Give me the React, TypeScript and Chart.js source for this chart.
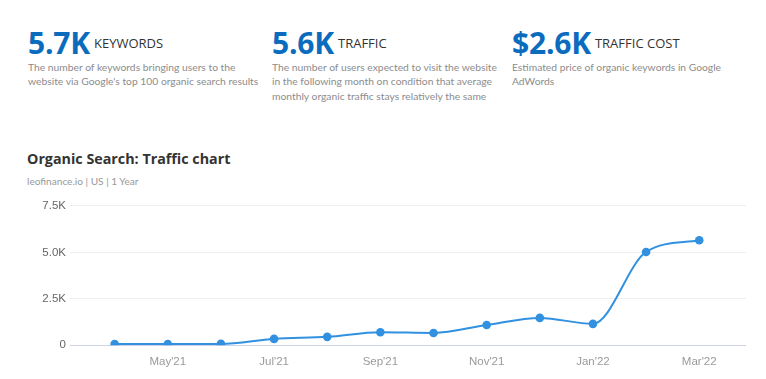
import React, { useEffect, useRef } from "react";
import { Chart, registerables } from "chart.js";

Chart.register(...registerables);

const months = ["Apr'21", "May'21", "Jun'21", "Jul'21", "Aug'21", "Sep'21", "Oct'21", "Nov'21", "Dec'21", "Jan'22", "Feb'22", "Mar'22"];
const traffic = [60, 60, 70, 340, 450, 700, 660, 1090, 1470, 1150, 5020, 5650];
const yTicks = [0, 2500, 5000, 7500];
const yTickLabels = ["0", "2.5K", "5.0K", "7.5K"];
const xTickIndexes = [1, 3, 5, 7, 9, 11];

const stats = [
  { value: "5.7K", label: "KEYWORDS", desc: ["The number of keywords bringing users to the", "website via Google's top 100 organic search results"], left: 28 },
  { value: "5.6K", label: "TRAFFIC", desc: ["The number of users expected to visit the website", "in the following month on condition that average", "monthly organic traffic stays relatively the same"], left: 272 },
  { value: "$2.6K", label: "TRAFFIC COST", desc: ["Estimated price of organic keywords in Google", "AdWords"], left: 512 },
];

const FONT = "'Open Sans', 'DejaVu Sans', sans-serif";
const DESC_FONT = "Lato, 'Open Sans', sans-serif";

export default function App() {
  const ref = useRef<HTMLCanvasElement>(null);
  useEffect(() => {
    const ctx = ref.current!;
    const chart = new Chart(ctx, {
      type: "line",
      data: {
        datasets: [
          {
            data: traffic.map((v, i) => ({ x: i, y: v })),
            borderColor: "#3191e0",
            backgroundColor: "#3191e0",
            borderWidth: 2,
            pointRadius: 4.3,
            pointHoverRadius: 4.3,
            pointBorderWidth: 0,
            cubicInterpolationMode: "monotone",
            fill: false,
          },
        ],
      },
      options: {
        animation: false,
        responsive: false,
        maintainAspectRatio: false,
        layout: { padding: { top: 10, right: 20, left: 0, bottom: 0 } },
        plugins: { legend: { display: false }, tooltip: { enabled: false } },
        scales: {
          x: {
            type: "linear",
            min: -0.84,
            max: 11.88,
            grid: { display: false, drawTicks: false },
            border: { display: false },
            afterBuildTicks: (axis: any) => {
              axis.ticks = xTickIndexes.map((v) => ({ value: v }));
            },
            ticks: {
              padding: 10,
              color: "#9a9a9a",
              font: { family: "'Liberation Sans', Arial, sans-serif", size: 11.5 },
              callback: (v: any) => months[v as number] ?? "",
              maxRotation: 0,
              autoSkip: false,
            },
          },
          y: {
            min: 0,
            max: 7500,
            afterFit: (axis: any) => {
              axis.width = 70;
            },
            afterBuildTicks: (axis: any) => {
              axis.ticks = yTicks.map((v) => ({ value: v }));
            },
            grid: {
              drawTicks: false,
              color: (c: any) => (c.tick && c.tick.value === 0 ? "#cdd2e6" : "#eceef2"),
              lineWidth: 1,
            },
            border: { display: false },
            ticks: {
              padding: 4,
              color: "#666666",
              font: { family: "'Liberation Sans', Arial, sans-serif", size: 11.5 },
              callback: (v: any) => yTickLabels[yTicks.indexOf(v as number)] ?? "",
            },
          },
        },
      },
    });
    return () => chart.destroy();
  }, []);

  return (
    <div style={{ position: "relative", width: 766, height: 379, margin: -8, background: "#fff", fontFamily: FONT, overflow: "hidden" }}>
      {stats.map((s) => (
        <div key={s.label} style={{ position: "absolute", left: s.left, top: 25, width: 240 }}>
          <div style={{ display: "flex", alignItems: "baseline" }}>
            <span style={{ fontSize: 30, fontWeight: 700, color: "#0b6cbd", lineHeight: "36px", letterSpacing: -0.2 }}>{s.value}</span>
            <span style={{ fontSize: 13, color: "#333", marginLeft: 4, position: "relative", top: -6 }}>{s.label}</span>
          </div>
          <div style={{ fontFamily: DESC_FONT, fontSize: 10.3, color: "#8c8c8c", lineHeight: "14.3px", marginTop: -1, whiteSpace: "nowrap" }}>
            {s.desc.map((l, i) => (
              <div key={i}>{l}</div>
            ))}
          </div>
        </div>
      ))}
      <div style={{ position: "absolute", left: 27, top: 149, fontSize: 14.3, fontWeight: 700, color: "#333" }}>Organic Search: Traffic chart</div>
      <div style={{ position: "absolute", left: 27, top: 175, fontFamily: DESC_FONT, fontSize: 10.1, color: "#999" }}>leofinance.io | US | 1 Year</div>
      <canvas ref={ref} width={766} height={184} style={{ position: "absolute", left: 0, top: 195, width: 766, height: 184 }} />
    </div>
  );
}
